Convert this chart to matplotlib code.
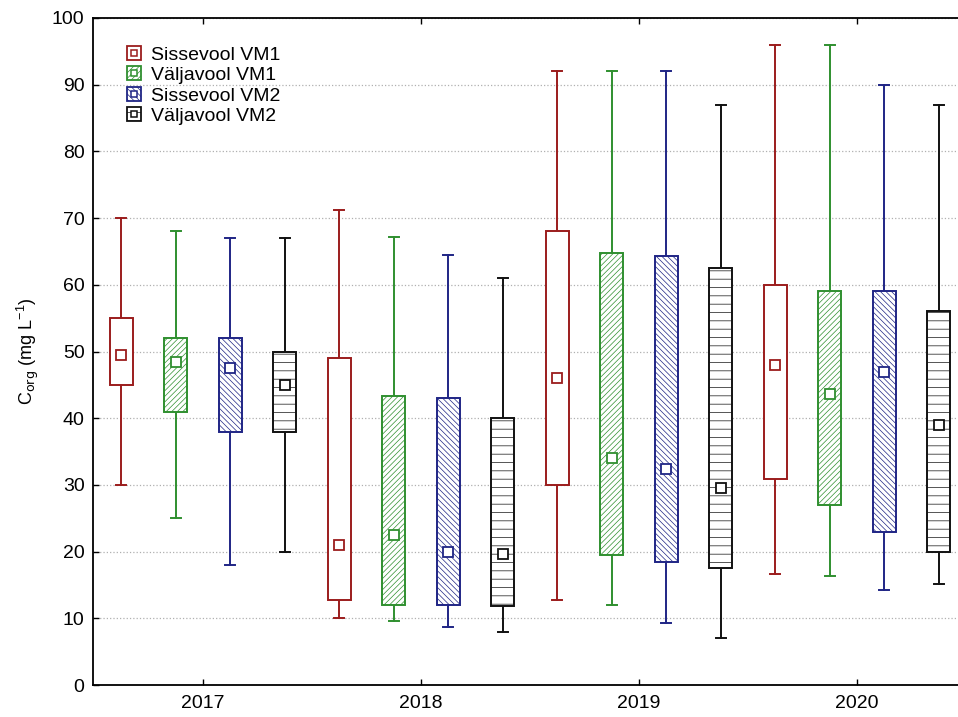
import numpy as np
import matplotlib
matplotlib.use("Agg")
import matplotlib.pyplot as plt
from matplotlib.patches import Patch
from matplotlib.lines import Line2D
from matplotlib.legend_handler import HandlerTuple

plt.rcParams['font.family'] = ['Liberation Sans', 'DejaVu Sans']
plt.rcParams['hatch.linewidth'] = 0.5

years = ['2017', '2018', '2019', '2020']
series = ['Sissevool VM1', 'Väljavool VM1', 'Sissevool VM2', 'Väljavool VM2']
colors = ['#9b1c1c', '#2f8f2f', '#1f2585', '#111111']
hatches = ['', '//////', '\\\\\\\\\\\\', '--']

# per series, one value per year: min, 25%, centre marker, 75%, max
lo = [[30, 10, 12.7, 16.7],
      [25, 9.6, 12.0, 16.4],
      [18, 8.7, 9.3, 14.2],
      [20, 7.9, 7.0, 15.2]]
q1 = [[45, 12.7, 30, 30.9],
      [41, 12, 19.5, 27],
      [38, 12, 18.5, 23],
      [38, 11.9, 17.5, 20]]
mid = [[49.5, 21, 46, 48],
       [48.5, 22.5, 34, 43.6],
       [47.5, 20, 32.4, 47],
       [45, 19.6, 29.5, 39]]
q3 = [[55, 49, 68, 60],
      [52, 43.3, 64.7, 59],
      [52, 43, 64.3, 59],
      [50, 40, 62.5, 56]]
hi = [[70, 71.2, 92, 96],
      [68, 67.2, 92, 96],
      [67, 64.5, 92, 90],
      [67, 61, 87, 87]]

offsets = [-0.375, -0.125, 0.125, 0.375]
box_w = 0.105
cap_w = 0.047

fig = plt.figure(figsize=(9.58, 7.17), dpi=100)
ax = fig.add_axes([0.097, 0.0446, 0.903, 0.9303])

xpos = np.arange(len(years))
for s in range(len(series)):
    c = colors[s]
    stats = []
    for y in range(len(years)):
        stats.append(dict(whislo=lo[s][y], q1=q1[s][y], med=mid[s][y],
                          mean=mid[s][y], q3=q3[s][y], whishi=hi[s][y]))
    bp = ax.bxp(stats, positions=xpos + offsets[s], widths=box_w,
                capwidths=cap_w, patch_artist=True, showmeans=True,
                showfliers=False, manage_ticks=False,
                boxprops=dict(facecolor='white', edgecolor=c, linewidth=1.4,
                              hatch=hatches[s]),
                whiskerprops=dict(color=c, linewidth=1.4),
                capprops=dict(color=c, linewidth=1.4),
                medianprops=dict(visible=False),
                meanprops=dict(marker='s', markersize=7, markerfacecolor='white',
                               markeredgecolor=c, markeredgewidth=1.3))
    for b in bp['boxes']:
        b.set_zorder(3)
    for m in bp['means']:
        m.set_zorder(4)

ax.set_xlim(-0.505, 3.463)
ax.set_ylim(0, 100)
ax.set_yticks(np.arange(0, 101, 10))
ax.set_xticks(xpos)
ax.set_xticklabels(years)
ax.tick_params(axis='both', direction='in', labelsize=14, length=4, width=1)
ax.tick_params(axis='x', top=True, pad=7)
ax.tick_params(axis='y', pad=6)
ax.spines['right'].set_visible(False)
for sp in ['left', 'top', 'bottom']:
    ax.spines[sp].set_linewidth(1.3)
ax.yaxis.grid(True, linestyle=':', color='#b0b0b0', linewidth=0.9)
ax.set_axisbelow(True)
ax.set_ylabel(r'C$_{\mathrm{org}}$ (mg L$^{\mathregular{-1}}$)', fontsize=13, labelpad=8)

handles = []
for s in range(len(series)):
    p = Patch(facecolor='white', edgecolor=colors[s], hatch=hatches[s], linewidth=1.3)
    m = Line2D([], [], linestyle='none', marker='s', markersize=5,
               markerfacecolor='white', markeredgecolor=colors[s], markeredgewidth=1.1)
    handles.append((p, m))
ax.legend(handles, series, handler_map={tuple: HandlerTuple(ndivide=1)},
          loc='upper left', bbox_to_anchor=(0.039, 0.958), frameon=False,
          fontsize=14, handlelength=0.72, handleheight=0.72, handletextpad=0.55,
          labelspacing=0.14, borderpad=0, borderaxespad=0)

fig.savefig('out.png', dpi=100)
